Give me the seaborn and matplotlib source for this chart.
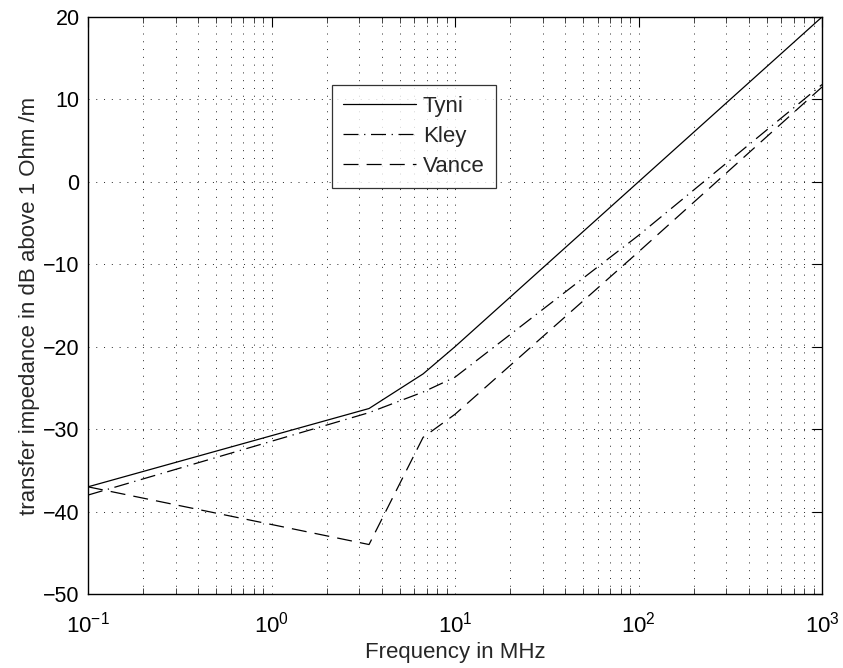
import matplotlib
matplotlib.use("Agg")
import matplotlib.pyplot as plt
import matplotlib.ticker as mticker
import numpy as np
import pandas as pd
import seaborn as sns

# Frequency sample points (MHz) and transfer impedance (dB above 1 Ohm/m)
freq_mhz = [0.1, 3.4, 6.7, 10, 100, 1000]
tyni = [-37.0, -27.5, -23.3, -20.0, 0.0, 20.0]
kley = [-38.0, -28.0, -25.5, -23.7, -6.5, 11.8]
vance = [-37.0, -44.0, -31.0, -28.2, -8.5, 11.5]
series_names = ["Tyni", "Kley", "Vance"]

sns.set_theme(style="white")
plt.rcParams["font.family"] = ["Liberation Sans", "DejaVu Sans"]
plt.rcParams["mathtext.fontset"] = "custom"
plt.rcParams["mathtext.rm"] = "Liberation Sans"
plt.rcParams["mathtext.it"] = "Liberation Sans"

df = pd.DataFrame({
    "freq": freq_mhz * 3,
    "z": tyni + kley + vance,
    "model": [n for n in series_names for _ in freq_mhz],
})

fig = plt.figure(figsize=(8.43, 6.68), dpi=100)
ax = fig.add_axes([0.1044, 0.1108, 0.8707, 0.8638])

sns.lineplot(
    data=df, x="freq", y="z", hue="model", style="model",
    hue_order=series_names, style_order=series_names,
    palette={n: "black" for n in series_names},
    dashes={"Tyni": "", "Kley": (12, 4.5, 1, 4.5), "Vance": (12, 6.5)},
    linewidth=0.9, ax=ax, legend=True, sort=False,
)

ax.set_xscale("log")
ax.set_xlim(0.1, 1000)
ax.set_ylim(-50, 20)
ax.set_yticks(np.arange(-50, 21, 10))
ax.xaxis.set_major_locator(mticker.LogLocator(base=10, numticks=10))
ax.xaxis.set_minor_locator(mticker.LogLocator(base=10, subs=np.arange(2, 10), numticks=20))
ax.xaxis.set_minor_formatter(mticker.NullFormatter())

ax.grid(True, which="major", axis="both", color="0.15", linestyle=(0, (1, 7)), linewidth=0.7)
ax.grid(True, which="minor", axis="x", color="0.15", linestyle=(0, (1, 7)), linewidth=0.7)

ax.tick_params(axis="both", which="major", direction="in", length=7, width=0.8,
               top=True, right=True, colors="black")
ax.tick_params(axis="y", which="major", labelsize=15.5, pad=6)
ax.tick_params(axis="x", which="major", labelsize=16, pad=13)
ax.tick_params(axis="x", which="minor", direction="in", length=4, width=0.6,
               top=True, bottom=True)
for side in ax.spines.values():
    side.set_color("black")
    side.set_linewidth(1.0)

ax.set_xlabel("Frequency in MHz", fontsize=16, labelpad=3)
ax.set_ylabel("transfer impedance in dB above 1 Ohm /m", fontsize=16, labelpad=2)

leg = ax.legend(loc="upper left", bbox_to_anchor=(0.332, 0.882), borderaxespad=0,
                fontsize=16, frameon=True, fancybox=False, edgecolor="black",
                handlelength=3.3, handletextpad=0.3, labelspacing=0.4,
                borderpad=0.5, title=None)
leg.get_frame().set_linewidth(0.9)

fig.savefig("out.png", dpi=100, facecolor="white")
